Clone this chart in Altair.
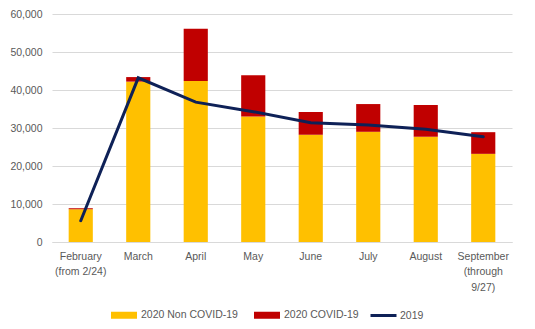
import altair as alt
import pandas as pd

months = ["February|(from 2/24)", "March", "April", "May", "June", "July", "August",
          "September|(through|9/27)"]
non_covid = [8600, 42200, 42400, 33000, 28200, 29000, 27700, 23200]
covid = [300, 1200, 13700, 10900, 6000, 7300, 8350, 5700]
y2019 = [5600, 43200, 36800, 34300, 31400, 30800, 29700, 27700]

series_names = ["2020 Non COVID-19", "2020 COVID-19"]
bar_colors = ["#FFC000", "#C00000"]
line_color = "#0E2157"

rows = []
for i, m in enumerate(months):
    rows.append({"month": m, "series": series_names[0], "value": non_covid[i], "ord": 0})
    rows.append({"month": m, "series": series_names[1], "value": covid[i], "ord": 1})
bars_df = pd.DataFrame(rows)
line_df = pd.DataFrame({"month": months, "value": y2019, "series": ["2019"] * len(months)})

gray_text = "#595959"
grid = "#D9D9D9"
rect_sym = "M-1,-0.27L1,-0.27L1,0.27L-1,0.27Z"
fs = 10.5

x_enc = alt.X("month:N", sort=months, title=None,
              scale=alt.Scale(paddingInner=0.58, paddingOuter=0.29),
              axis=alt.Axis(labelExpr="split(datum.label, '|')", labelAngle=0,
                            labelColor=gray_text, labelFontSize=fs, labelPadding=9,
                            ticks=False, domainColor=grid, labelLineHeight=15.5,
                            labelBaseline="top"))


def y_enc(stack=None):
    kw = {}
    if stack is not None:
        kw["stack"] = stack
    return alt.Y("value:Q", title=None,
                 scale=alt.Scale(domain=[0, 60000], nice=False),
                 axis=alt.Axis(values=[0, 10000, 20000, 30000, 40000, 50000, 60000],
                               format=",.0f", domain=False, ticks=False, gridColor=grid,
                               labelColor=gray_text, labelFontSize=fs, labelPadding=10),
                 **kw)


bars = alt.Chart(bars_df).mark_bar().encode(
    x=x_enc,
    y=y_enc("zero"),
    color=alt.Color("series:N", scale=alt.Scale(domain=series_names, range=bar_colors),
                    legend=alt.Legend(title=None, orient="none", direction="horizontal",
                                      legendX=58, legendY=287, symbolType=rect_sym,
                                      symbolSize=676, labelFontSize=fs, labelColor=gray_text,
                                      labelOffset=3, columnPadding=15)),
    order=alt.Order("ord:Q"),
)

line = alt.Chart(line_df).mark_line(strokeWidth=3, strokeCap="round").encode(
    x=x_enc,
    y=y_enc(),
    stroke=alt.Stroke("series:N", scale=alt.Scale(domain=["2019"], range=[line_color]),
                      legend=alt.Legend(title=None, orient="none", direction="horizontal",
                                        legendX=317, legendY=287, symbolType="stroke",
                                        symbolSize=676, symbolStrokeWidth=3,
                                        labelFontSize=fs, labelColor=gray_text,
                                        labelOffset=2)),
)

chart = alt.layer(bars, line).properties(
    width=460, height=228,
    autosize=alt.AutoSizeParams(type="none"),
    padding={"left": 52, "top": 14, "right": 23, "bottom": 87},
).configure(font="Liberation Sans").configure_view(stroke=None)

chart.save("out.html", embed_options={"renderer": "svg", "actions": False})
